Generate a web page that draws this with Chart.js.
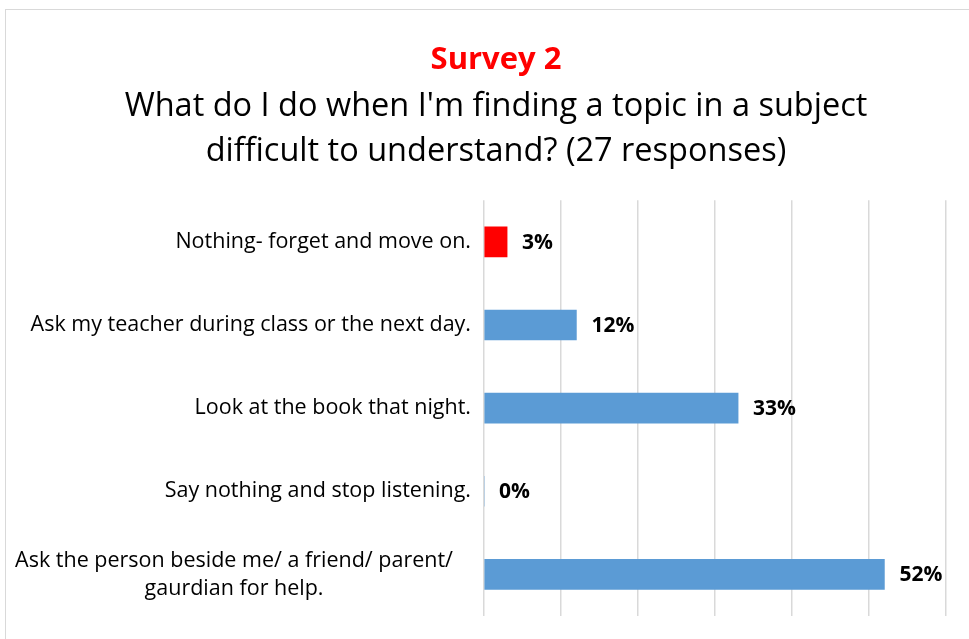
<!DOCTYPE html>
<html>
<head>
<meta charset="utf-8">
<script src="https://cdn.jsdelivr.net/npm/chart.js@4.4.0/dist/chart.umd.min.js"></script>
<style>
    html, body { margin: 0; padding: 0; background: #fff; overflow: hidden; }
    #box {
        position: absolute;
        left: 5px;
        top: 9px;
        width: 980px;
        height: 660px;
        border: 1px solid #d9d9d9;
        background: #fff;
    }
</style>
</head>
<body>
<div id="box">
    <canvas id="surveyChart" width="980" height="629"></canvas>
</div>
<script>
// Chart data
const categories = [
    'Nothing- forget and move on.',
    'Ask my teacher during class or the next day.',
    'Look at the book that night.',
    'Say nothing and stop listening.',
    ['Ask the person beside me/ a friend/ parent/', 'gaurdian for help.']
];
const percentages = [3, 12, 33, 0, 52];
const barColors = ['#ff0000', '#5b9bd5', '#5b9bd5', '#5b9bd5', '#5b9bd5'];
const axisTicks = [0, 10, 20, 30, 40, 50, 60];

const labelFont = '21.5px "Open Sans"';

// Draw category labels: single lines right aligned, wrapped ones centred in their block
const categoryLabels = {
    id: 'categoryLabels',
    afterDraw(chart) {
        const ctx = chart.ctx;
        const yScale = chart.scales.y;
        const right = chart.chartArea.left - 13;
        ctx.save();
        ctx.font = labelFont;
        ctx.fillStyle = '#000';
        ctx.textBaseline = 'middle';
        categories.forEach((label, i) => {
            const y = yScale.getPixelForValue(i);
            if (Array.isArray(label)) {
                const w = Math.max(...label.map(l => ctx.measureText(l).width));
                const cx = right - 18 - w / 2;
                const lineH = 28;
                ctx.textAlign = 'center';
                label.forEach((line, j) => {
                    ctx.fillText(line, cx, y + (j - (label.length - 1) / 2) * lineH);
                });
            } else {
                ctx.textAlign = 'right';
                ctx.fillText(label, right, y);
            }
        });
        ctx.restore();
    }
};

// Percentage labels next to each bar
const valueLabels = {
    id: 'valueLabels',
    afterDatasetsDraw(chart) {
        const ctx = chart.ctx;
        const meta = chart.getDatasetMeta(0);
        ctx.save();
        ctx.font = 'bold 21px "Open Sans"';
        ctx.fillStyle = '#000';
        ctx.textAlign = 'left';
        ctx.textBaseline = 'middle';
        meta.data.forEach((bar, i) => {
            ctx.fillText(percentages[i] + '%', bar.x + 15, bar.y + 1);
        });
        ctx.restore();
    }
};

const ctx = document.getElementById('surveyChart').getContext('2d');
const surveyChart = new Chart(ctx, {
    type: 'bar',
    data: {
        labels: categories,
        datasets: [{
            data: percentages,
            backgroundColor: barColors,
            borderWidth: 0,
            barThickness: 30
        }]
    },
    options: {
        indexAxis: 'y',
        responsive: false,
        animation: false,
        layout: {
            padding: { left: 0, right: 0, top: 6, bottom: 23 }
        },
        plugins: {
            legend: { display: false },
            tooltip: { enabled: false },
            title: {
                display: true,
                text: 'Survey 2',
                color: '#ff0000',
                font: { family: 'Open Sans', size: 31, weight: 'bold' },
                padding: { top: 26, bottom: 5 }
            },
            subtitle: {
                display: true,
                text: ["What do I do when I'm finding a topic in a subject", 'difficult to understand? (27 responses)'],
                color: '#000',
                font: { family: 'Open Sans', size: 32.5, lineHeight: 1.385 },
                padding: { top: 0, bottom: 26 }
            }
        },
        scales: {
            x: {
                min: axisTicks[0],
                max: axisTicks[axisTicks.length - 1],
                afterBuildTicks(scale) {
                    scale.ticks = axisTicks.map(v => ({ value: v }));
                },
                ticks: { display: false },
                border: { display: false },
                grid: { color: '#d9d9d9', lineWidth: 1.5, drawTicks: false }
            },
            y: {
                ticks: { display: false },
                border: { display: false },
                grid: { display: false },
                afterFit(scale) {
                    scale.width = 478;
                }
            },
            // empty right-hand axis that only keeps a margin beside the plot
            rightGap: {
                type: 'linear',
                position: 'right',
                ticks: { display: false },
                border: { display: false },
                grid: { display: false },
                afterFit(scale) {
                    scale.width = 40;
                }
            }
        }
    },
    plugins: [categoryLabels, valueLabels]
});
</script>
</body>
</html>
